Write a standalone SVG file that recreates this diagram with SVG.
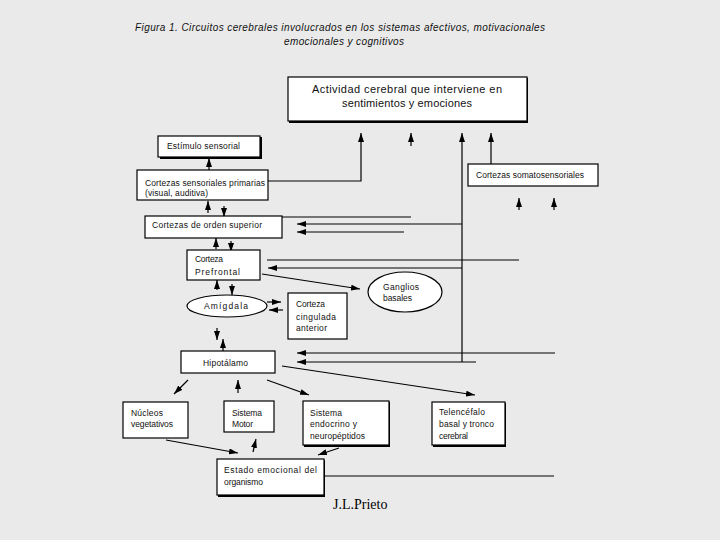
<svg xmlns="http://www.w3.org/2000/svg" width="720" height="540" viewBox="0 0 720 540">
<defs>
<marker id="ah" markerUnits="userSpaceOnUse" markerWidth="10" markerHeight="6" refX="9" refY="3" orient="auto">
<path d="M0,0 L9,3 L0,6 z" fill="#000"/>
</marker>
<style>
.bx{fill:#fff;stroke:#000;stroke-width:1.2}
.sh{fill:#000}
.el{fill:#fff;stroke:#000;stroke-width:1.2}
.t{font-family:"Liberation Sans",Arial,sans-serif;font-size:8.5px;fill:#111}
.tt{font-family:"Liberation Sans",Arial,sans-serif;font-size:10px;font-style:italic;fill:#111}
.tb{font-family:"Liberation Sans",Arial,sans-serif;font-size:11px;fill:#111}
.ln{fill:none;stroke:#000;stroke-width:1.2}
.ar{fill:none;stroke:#000;stroke-width:1.2;marker-end:url(#ah)}
</style>
</defs>
<rect width="720" height="540" fill="#eaeaea"/>

<g id="title">
<text class="tt" x="135" y="31" textLength="410" lengthAdjust="spacing">Figura 1. Circuitos cerebrales involucrados en los sistemas afectivos, motivacionales</text>
<text class="tt" x="284" y="45" textLength="120" lengthAdjust="spacing">emocionales y cognitivos</text>
</g>

<g id="connectors">
<polyline class="ar" points="268,181 361,181 361,133"/>
<line class="ar" x1="411" y1="146" x2="411" y2="133"/>
<line class="ar" x1="462" y1="362" x2="462" y2="133"/>
<line class="ar" x1="491" y1="164" x2="491" y2="133"/>
<line class="ar" x1="519" y1="210" x2="519" y2="198"/>
<line class="ar" x1="554" y1="210" x2="554" y2="198"/>
<line class="ln" x1="282" y1="217" x2="411" y2="217"/>
<line class="ar" x1="462" y1="224" x2="297" y2="224"/>
<line class="ar" x1="404" y1="232" x2="297" y2="232"/>
<line class="ln" x1="267" y1="260" x2="519" y2="260"/>
<line class="ar" x1="462" y1="268" x2="268" y2="268"/>
<line class="ar" x1="262" y1="274" x2="360" y2="289"/>
<line class="ar" x1="267" y1="302" x2="281" y2="302"/>
<line class="ar" x1="283" y1="310" x2="269" y2="310"/>
<line class="ar" x1="555" y1="353" x2="297" y2="353"/>
<line class="ar" x1="476" y1="362" x2="297" y2="362"/>
<line class="ar" x1="282" y1="366" x2="475" y2="395"/>
<line class="ln" x1="324" y1="476" x2="554" y2="476"/>
<line class="ar" x1="209" y1="170" x2="209" y2="158"/>
<line class="ar" x1="208" y1="213" x2="208" y2="201"/>
<line class="ar" x1="224" y1="206" x2="224" y2="217"/>
<line class="ar" x1="216" y1="249" x2="216" y2="238"/>
<line class="ar" x1="231" y1="241" x2="231" y2="252"/>
<line class="ar" x1="217" y1="290" x2="217" y2="280"/>
<line class="ar" x1="232" y1="284" x2="232" y2="295"/>
<line class="ar" x1="217" y1="328" x2="217" y2="340"/>
<line class="ar" x1="223" y1="351" x2="223" y2="339"/>
<line class="ar" x1="188" y1="380" x2="174" y2="394"/>
<line class="ar" x1="238" y1="393" x2="238" y2="380"/>
<line class="ar" x1="267" y1="380" x2="309" y2="395"/>
<line class="ar" x1="166" y1="440" x2="238" y2="453"/>
<line class="ar" x1="253" y1="452" x2="256" y2="439"/>
<line class="ar" x1="339" y1="448" x2="318" y2="455"/>
</g>

<g id="actividad">
<rect class="sh" x="289" y="78" width="239" height="45"/>
<rect class="bx" x="288" y="77" width="239" height="44"/>
<text class="tb" x="312" y="93" textLength="190" lengthAdjust="spacing">Actividad cerebral que interviene en</text>
<text class="tb" x="342" y="107" textLength="130" lengthAdjust="spacing">sentimientos y emociones</text>
</g>

<g id="estimulo">
<rect class="sh" x="160" y="137" width="102" height="22"/>
<rect class="bx" x="158" y="136" width="102" height="21"/>
<text class="t" x="167" y="149" textLength="73" lengthAdjust="spacing">Estímulo sensorial</text>
</g>

<g id="primarias">
<rect class="bx" x="137" y="170" width="131" height="30"/>
<text class="t" x="145" y="186" textLength="120" lengthAdjust="spacing">Cortezas sensoriales primarias</text>
<text class="t" x="145" y="196" textLength="63" lengthAdjust="spacing">(visual, auditiva)</text>
</g>

<g id="superior">
<rect class="bx" x="145" y="216" width="137" height="22"/>
<text class="t" x="152" y="228" textLength="110" lengthAdjust="spacing">Cortezas de orden superior</text>
</g>

<g id="somatosensoriales">
<rect class="bx" x="468" y="164" width="130" height="22"/>
<text class="t" x="476" y="178" textLength="108" lengthAdjust="spacing">Cortezas somatosensoriales</text>
</g>

<g id="prefrontal">
<rect class="bx" x="187" y="250" width="73" height="30"/>
<text class="t" x="195" y="262" textLength="28" lengthAdjust="spacing">Corteza</text>
<text class="t" x="195" y="275" textLength="45" lengthAdjust="spacing">Prefrontal</text>
</g>

<g id="ganglios">
<ellipse class="el" cx="405" cy="292" rx="37" ry="20"/>
<text class="t" x="383" y="290" textLength="36" lengthAdjust="spacing">Ganglios</text>
<text class="t" x="383" y="301" textLength="29" lengthAdjust="spacing">basales</text>
</g>

<g id="amigdala">
<ellipse class="el" cx="227" cy="306" rx="40" ry="11"/>
<text class="t" x="204" y="309" textLength="44" lengthAdjust="spacing">Amígdala</text>
</g>

<g id="cingulada">
<rect class="bx" x="288" y="293" width="59" height="46"/>
<text class="t" x="296" y="307" textLength="29" lengthAdjust="spacing">Corteza</text>
<text class="t" x="296" y="320" textLength="40" lengthAdjust="spacing">cingulada</text>
<text class="t" x="296" y="331" textLength="31" lengthAdjust="spacing">anterior</text>
</g>

<g id="hipotalamo">
<rect class="bx" x="181" y="351" width="94" height="22"/>
<text class="t" x="203" y="366" textLength="45" lengthAdjust="spacing">Hipotálamo</text>
</g>

<g id="nucleos">
<rect class="bx" x="123" y="402" width="65" height="36"/>
<text class="t" x="131" y="416" textLength="32" lengthAdjust="spacing">Núcleos</text>
<text class="t" x="131" y="427" textLength="42" lengthAdjust="spacing">vegetativos</text>
</g>

<g id="motor">
<rect class="bx" x="224" y="401" width="50" height="31"/>
<text class="t" x="232" y="416" textLength="30" lengthAdjust="spacing">Sistema</text>
<text class="t" x="232" y="427" textLength="21" lengthAdjust="spacing">Motor</text>
</g>

<g id="endocrino">
<rect class="sh" x="304" y="402" width="86" height="45"/>
<rect class="bx" x="303" y="401" width="86" height="44"/>
<text class="t" x="310" y="416" textLength="32" lengthAdjust="spacing">Sistema</text>
<text class="t" x="310" y="427" textLength="47" lengthAdjust="spacing">endocrino y</text>
<text class="t" x="310" y="439" textLength="55" lengthAdjust="spacing">neuropéptidos</text>
</g>

<g id="telencefalo">
<rect class="sh" x="433" y="403" width="73" height="44"/>
<rect class="bx" x="432" y="402" width="73" height="43"/>
<text class="t" x="439" y="415" textLength="46" lengthAdjust="spacing">Telencéfalo</text>
<text class="t" x="439" y="427" textLength="55" lengthAdjust="spacing">basal y tronco</text>
<text class="t" x="439" y="439" textLength="29" lengthAdjust="spacing">cerebral</text>
</g>

<g id="estado">
<rect class="sh" x="218" y="460" width="107" height="37"/>
<rect class="bx" x="217" y="459" width="107" height="36"/>
<text class="t" x="224" y="473" textLength="93" lengthAdjust="spacing">Estado emocional del</text>
<text class="t" x="224" y="485" textLength="39" lengthAdjust="spacing">organismo</text>
</g>

<text x="333" y="509" font-family="'Liberation Serif','Times New Roman',serif" font-size="14" fill="#000">J.L.Prieto</text>
</svg>
